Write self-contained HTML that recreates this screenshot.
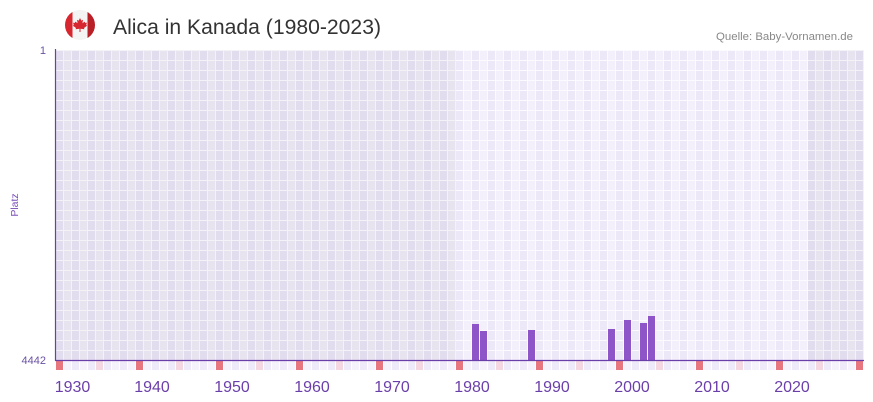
<!DOCTYPE html>
<html>
<head>
<meta charset="utf-8">
<style>
  html,body{margin:0;padding:0;background:#fff;}
  svg{display:block;}
  text{font-family:"Liberation Sans",sans-serif;}
</style>
</head>
<body>
<svg width="873" height="402" viewBox="0 0 873 402" xmlns="http://www.w3.org/2000/svg">
  <defs>
    <pattern id="pd" x="56" y="51" width="16" height="10" patternUnits="userSpaceOnUse">
      <rect x="0" y="0" width="16" height="10" fill="#f3f2f6"/>
      <rect x="0" y="0" width="7" height="9" fill="#e2ddee"/>
      <rect x="8" y="0" width="7" height="9" fill="#e7e4ef"/>
    </pattern>
    <pattern id="pl" x="56" y="51" width="16" height="10" patternUnits="userSpaceOnUse">
      <rect x="0" y="0" width="16" height="10" fill="#fbfaff"/>
      <rect x="0" y="0" width="7" height="9" fill="#ede8f8"/>
      <rect x="8" y="0" width="7" height="9" fill="#f3f0fc"/>
    </pattern>
    <pattern id="pb" x="56" y="361" width="16" height="9" patternUnits="userSpaceOnUse">
      <rect x="0" y="0" width="16" height="9" fill="#ffffff"/>
      <rect x="0" y="0" width="7" height="9" fill="#efeaf9"/>
      <rect x="8" y="0" width="7" height="9" fill="#f5f2fc"/>
    </pattern>
    <clipPath id="fc"><circle cx="80" cy="25" r="15"/></clipPath>
  </defs>

  <!-- Flag -->
  <g clip-path="url(#fc)">
    <rect x="64" y="9" width="32" height="32" fill="#f4f4f4"/>
    <rect x="64" y="9" width="8.5" height="32" fill="#d7262f"/>
    <rect x="87.5" y="9" width="8.5" height="32" fill="#b81f27"/>
    <path d="M80 18 L81.3 20.6 L83 19.8 L82.4 23.2 L84.6 21.6 L85.3 23 L87 22.6 L86.2 25 L87.2 25.6 L84 28 L84.4 29.2 L80.5 28.8 L80.5 32 L79.5 32 L79.5 28.8 L75.6 29.2 L76 28 L72.8 25.6 L73.8 25 L73 22.6 L74.7 23 L75.4 21.6 L77.6 23.2 L77 19.8 L78.7 20.6 Z" fill="#d7262f"/>
  </g>

  <!-- Title -->
  <text x="113" y="34" font-size="21" fill="#333333" textLength="268" lengthAdjust="spacingAndGlyphs">Alica in Kanada (1980-2023)</text>
  <text x="716" y="40" font-size="11" fill="#888888" textLength="137" lengthAdjust="spacingAndGlyphs">Quelle: Baby-Vornamen.de</text>

  <!-- Grid background -->
  <rect x="56" y="50" width="400" height="310" fill="url(#pd)"/>
  <rect x="456" y="50" width="352" height="310" fill="url(#pl)"/>
  <rect x="808" y="50" width="56" height="310" fill="url(#pd)"/>

  <!-- Bottom strip -->
  <rect x="56" y="361" width="808" height="9" fill="url(#pb)"/>
  <g fill="#e8767e">
    <rect x="56" y="361" width="7" height="9"/>
    <rect x="136" y="361" width="7" height="9"/>
    <rect x="216" y="361" width="7" height="9"/>
    <rect x="296" y="361" width="7" height="9"/>
    <rect x="376" y="361" width="7" height="9"/>
    <rect x="456" y="361" width="7" height="9"/>
    <rect x="536" y="361" width="7" height="9"/>
    <rect x="616" y="361" width="7" height="9"/>
    <rect x="696" y="361" width="7" height="9"/>
    <rect x="776" y="361" width="7" height="9"/>
    <rect x="856" y="361" width="7" height="9"/>
  </g>
  <g fill="#f5d7e1">
    <rect x="96" y="361" width="7" height="9"/>
    <rect x="176" y="361" width="7" height="9"/>
    <rect x="256" y="361" width="7" height="9"/>
    <rect x="336" y="361" width="7" height="9"/>
    <rect x="416" y="361" width="7" height="9"/>
    <rect x="496" y="361" width="7" height="9"/>
    <rect x="576" y="361" width="7" height="9"/>
    <rect x="656" y="361" width="7" height="9"/>
    <rect x="736" y="361" width="7" height="9"/>
    <rect x="816" y="361" width="7" height="9"/>
  </g>

  <!-- Bars -->
  <g fill="#8e55c9">
    <rect x="472" y="324" width="7" height="36"/>
    <rect x="480" y="331" width="7" height="29"/>
    <rect x="528" y="330" width="7" height="30"/>
    <rect x="608" y="329" width="7" height="31"/>
    <rect x="624" y="320" width="7" height="40"/>
    <rect x="640" y="323" width="7" height="37"/>
    <rect x="648" y="316" width="7" height="44"/>
  </g>

  <!-- Axes -->
  <line x1="55.5" y1="49" x2="55.5" y2="361" stroke="#6b3fa9" stroke-width="1.2"/>
  <line x1="55" y1="360.5" x2="864" y2="360.5" stroke="#6b3fa9" stroke-width="1.3"/>

  <!-- Y labels -->
  <text x="46" y="54" font-size="11" fill="#6b52a3" text-anchor="end">1</text>
  <text x="46" y="364" font-size="11" fill="#6b52a3" text-anchor="end">4442</text>
  <text x="0" y="0" font-size="10.5" fill="#7a4fb8" text-anchor="middle" transform="translate(18,205) rotate(-90)">Platz</text>

  <!-- X labels -->
  <g font-size="16" fill="#6b3fa9" text-anchor="middle">
    <text x="72.5" y="392">1930</text>
    <text x="152" y="392">1940</text>
    <text x="232" y="392">1950</text>
    <text x="312" y="392">1960</text>
    <text x="392" y="392">1970</text>
    <text x="472" y="392">1980</text>
    <text x="552" y="392">1990</text>
    <text x="632" y="392">2000</text>
    <text x="712" y="392">2010</text>
    <text x="792" y="392">2020</text>
  </g>
</svg>
</body>
</html>
